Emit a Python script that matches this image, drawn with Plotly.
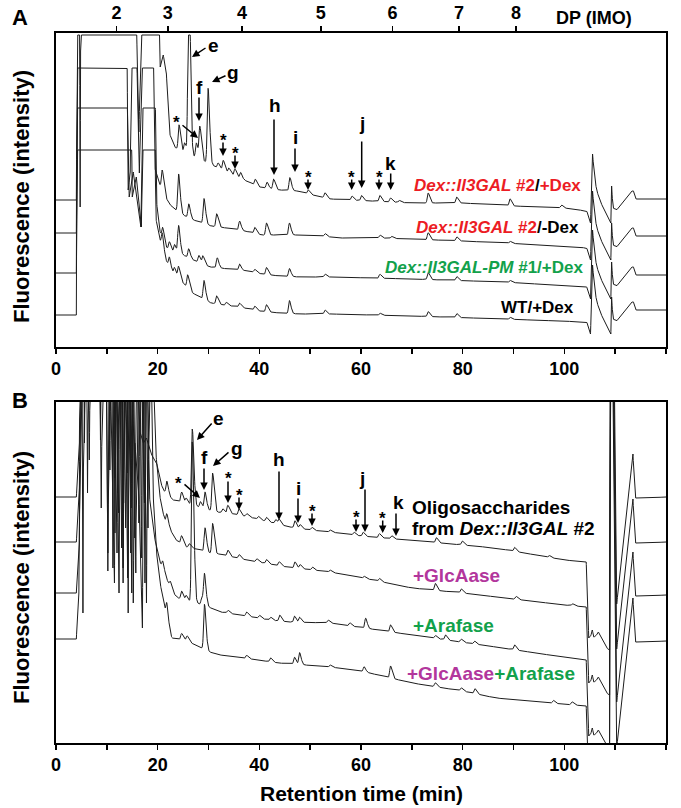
import numpy as np
import plotly.graph_objects as go

FONT = "Liberation Sans, Arial, Helvetica, sans-serif"
RED = "#ec1c24"
GREEN = "#12a14b"
PURPLE = "#b2369c"
INK = "#1c1c1c"

# ---------------- axis ticks ----------------
TIME_TICKS = list(range(0, 121, 10))
TIME_LABELS = ["0", "", "20", "", "40", "", "60", "", "80", "", "100", "", "120"]
DP_TIMES = [11.9, 22.0, 36.6, 52.1, 66.2, 79.3, 90.5]
DP_LABELS = ["2", "3", "4", "5", "6", "7", "8"]

# ---------------- panel A (intensity units, offset traces) ----------------
# trace A1: Dex::Il3GAL #2 / +Dex
A1_KT = [0, 4.0, 4.25, 4.6, 4.75, 4.9, 15.5, 16.3, 17.2, 20.0, 20.5, 21.1, 21.7, 22.3, 23.3, 24.9, 27.2,
         29.0, 31.5, 34.0, 37.0, 40.0, 44.0, 47.4, 50.5, 54.0, 70.0, 80.0, 90.0, 100.0, 104.4]
A1_KV = [147, 147, 400, 400, 140, 400, 400, 215, 400, 400, 280, 292, 275, 214, 200, 195, 190,
         186, 180, 174, 167, 160, 157, 156, 152, 148, 144, 144, 141, 139, 136]
A1_PT = [24.2, 25.3, 26.1, 27.6, 28.3, 29.9, 31.9, 32.9, 34.0, 35.2, 36.3, 39.2, 41.5, 42.8, 46.0, 49.6,
         52.9, 58.2, 60.1, 63.7, 65.8, 67.5, 73.2, 78.8, 89.3, 99.4]
A1_PH = [25, 10, 200, 15, 32, 75, 5, 10, 5, 7, 6, 6, 6, 10, 13, 4, 5, 4, 5, 6, 4, 2, 10, 6, 7, 3]

# trace A2: Dex::Il3GAL #2 / -Dex
A2_KT = [0, 4.0, 4.25, 13.8, 14.2, 14.6, 15.1, 15.4, 16.4, 17.4, 19.0, 19.4, 20.2, 21.5, 22.5, 23.3, 25.0,
         27.0, 28.3, 30.5, 33.5, 35.0, 38.0, 40.5, 48.0, 52.0, 56.0, 64.0, 80.0, 88.0, 100.0, 104.4]
A2_KV = [114, 114, 400, 400, 157, 175, 400, 400, 174, 400, 400, 180, 165, 150, 142, 138, 132,
         127, 125, 121, 119, 118, 115, 112, 112, 111, 109, 109, 106, 104, 101, 99]
A2_PT = [20.9, 24.1, 26.1, 29.1, 31.6, 36.1, 39.1, 41.4, 45.9, 52.9, 63.7, 66.0, 73.2, 78.8, 89.3]
A2_PH = [20, 38, 14, 25, 13, 9, 6, 12, 12, 3, 3, 2, 7, 4, 2]

# trace A3: Dex::Il3GAL-PM #1 / +Dex
A3_KT = [0, 4.0, 4.25, 13.4, 14.4, 15.2, 15.6, 16.7, 17.4, 19.3, 19.7, 20.3, 21.5, 23.0, 25.0, 27.0,
         30.3, 34.0, 38.0, 40.5, 44.0, 48.0, 54.0, 70.0, 88.0, 104.4]
A3_KV = [74, 74, 400, 400, 150, 175, 160, 120, 400, 400, 150, 118, 100, 95, 92, 87,
         80, 78, 76, 73, 71, 70, 70, 68, 65, 60]
A3_PT = [21.0, 22.3, 23.3, 24.1, 26.1, 28.1, 28.9, 31.7, 36.1, 39.1, 41.4, 45.9, 52.9, 63.7, 73.2, 78.8, 89.3]
A3_PH = [12, 8, 8, 28, 9, 7, 8, 10, 6, 3, 7, 8, 3, 4, 7, 4, 2]

# trace A4: WT / +Dex
A4_KT = [0, 4.0, 4.25, 14.5, 15.0, 15.8, 16.8, 17.5, 19.3, 19.6, 20.3, 21.5, 22.8, 24.8, 26.9, 28.2,
         30.5, 33.0, 36.0, 40.0, 44.0, 48.0, 54.0, 70.0, 88.0, 104.4]
A4_KV = [32, 32, 400, 400, 150, 170, 120, 400, 400, 130, 110, 88, 75, 65, 54, 50,
         44, 42, 40, 36, 34, 33, 33, 31, 28, 25]
A4_PT = [20.9, 22.3, 23.3, 24.1, 25.9, 29.1, 31.6, 33.5, 36.1, 39.1, 41.4, 45.9, 52.9, 63.7, 73.2, 78.8, 89.3]
A4_PH = [15, 10, 7, 12, 13, 19, 8, 3, 4, 4, 7, 13, 4, 2, 5, 4, 2]

A_SAT = [312, 279, 239, 197]  # detector saturation of each offset trace

# column wash-out region (relative to level at 104.4 min), panel A
A_END_T = [104.4, 105.0, 105.15, 105.55, 105.7, 105.9, 106.3, 107.0, 107.6, 108.3, 108.9, 109.15, 109.3,
           109.55, 110.3, 111.5, 113.3, 113.6, 114.0, 120.0]
A_END_DV = [0, -8, -12, 57, 48, 38, 22, 10, 4, -3, -9, -12, 25, 3, 1, 9, 20, 20, 12, 12]

# ---------------- panel B ----------------
# B1: oligosaccharides from Dex::Il3GAL #2
B1_KT = [0, 4.0, 4.3, 4.6, 4.8, 5.4, 5.6, 5.8, 6.3, 6.55, 6.8, 8.5, 8.75, 9.0, 10.4, 10.6, 10.8,
         11.4, 11.6, 11.8, 12.1, 12.4, 13.0, 13.3, 13.6, 14.0, 14.2, 14.5, 14.8, 15.1, 15.6, 16.4,
         17.2, 17.8, 18.6, 19.8, 20.5, 21.1, 22.3, 23.1, 25.5, 28.0, 30.0, 31.5, 35.0, 38.0, 42.0,
         46.0, 50.0, 54.0, 60.0, 73.5, 86.5, 100.0, 104.3]
B1_KV = [246, 246, 270, 300, 420, 420, 300, 420, 420, 283, 420, 420, 303, 420, 420, 273, 420,
         420, 265, 420, 250, 420, 420, 240, 420, 270, 420, 420, 235, 420, 420, 313,
         300, 305, 290, 280, 262, 253, 246, 243, 240, 236, 233, 231, 229, 226, 221,
         216, 213, 211, 207, 201, 195, 183, 181]
B1_PT = [21.8, 24.7, 25.6, 26.8, 28.4, 29.3, 30.8, 32.8, 33.8, 36.0, 37.5, 39.8, 41.4, 43.2, 43.9, 47.0,
         48.0, 50.3, 53.9, 58.6, 60.4, 63.6, 66.0, 74.8, 79.9, 90.2, 97.0]
B1_PH = [13, 10, 5, 76, 6, 17, 38, 4, 8, 6, 3, 3, 4, 4, 5, 7, 4, 3, 2, 3, 4, 4, 3, 5, 4, 4, 2]

# B2: +GlcAase
B2_KT = [0, 4.0, 4.3, 4.6, 4.85, 8.6, 8.9, 9.2, 11.3, 11.6, 11.9, 12.3, 12.6, 12.9, 13.2, 13.7, 14.0,
         14.4, 14.7, 15.0, 15.5, 15.8, 16.0, 16.3, 16.6, 17.4, 17.7, 18.1, 18.4, 18.8, 19.5, 20.2, 20.8,
         21.5, 23.6, 25.7, 28.4, 30.0, 32.0, 37.5, 45.4, 50.6, 53.9, 60.4, 70.0, 80.0, 90.0, 100.0, 104.3]
B2_KV = [201, 201, 225, 255, 420, 420, 235, 420, 420, 210, 420, 230, 420, 195, 420, 215, 420,
         420, 190, 420, 205, 420, 420, 220, 420, 240, 420, 215, 420, 420, 300, 255, 235,
         222, 203, 196, 193, 190, 189, 183, 176, 173, 171, 165, 155, 150, 144, 138, 136]
B2_PT = [21.8, 24.7, 26.2, 29.3, 30.8, 33.8, 36.0, 39.5, 41.4, 43.9, 47.0, 48.0, 50.4, 53.9, 60.6, 63.6,
         74.6, 79.7, 90.5, 101.6]
B2_PH = [10, 8, 4, 24, 30, 6, 4, 3, 4, 4, 6, 4, 3, 2, 2, 3, 7, 4, 3, 2]

# B3: +Arafase
B3_KT = [0, 4.0, 4.2, 4.6, 4.9, 6.0, 6.2, 6.4, 9.9, 10.2, 10.5, 11.0, 11.2, 11.4, 12.0, 12.3, 12.8,
         13.2, 13.5, 14.1, 14.4, 14.9, 15.2, 15.7, 16.0, 16.5, 16.8, 17.1, 17.5, 17.8, 18.3, 19.2, 20.3,
         21.6, 23.0, 24.0, 26.0, 27.7, 30.0, 32.3, 37.5, 42.0, 46.0, 54.0, 58.0, 70.0, 86.5, 94.4,
         101.0, 104.3]
B3_KV = [150, 150, 170, 200, 420, 420, 250, 420, 420, 172, 420, 420, 175, 420, 190, 420, 420,
         160, 420, 165, 420, 150, 420, 170, 420, 420, 185, 420, 160, 420, 250, 210, 183,
         166, 150, 145, 142, 140, 136, 131, 127, 123, 121, 120, 117, 108, 96, 90,
         85, 83]
B3_PT = [21.0, 22.5, 24.7, 25.6, 26.8, 28.7, 29.2, 33.8, 37.5, 40.0, 42.2, 44.0, 46.9, 47.9, 53.5, 57.8,
         60.9, 65.8, 74.6, 76.6, 79.7, 82.3, 90.2]
B3_PH = [8, 6, 8, 5, 160, 8, 30, 3, 4, 3, 3, 6, 6, 5, 3, 3, 10, 7, 3, 5, 3, 3, 5]

# B4: +GlcAase +Arafase
B4_KT = [0, 4.0, 4.2, 4.5, 4.8, 5.1, 5.3, 5.5, 9.8, 10.2, 10.5, 11.5, 11.8, 12.4, 12.7, 12.9, 13.2,
         13.4, 14.0, 14.2, 14.4, 15.0, 15.2, 15.5, 16.3, 17.0, 17.3, 17.8, 18.1, 18.6, 19.0, 19.6, 20.3,
         21.2, 22.2, 22.8, 24.0, 25.5, 27.0, 28.7, 30.2, 32.3, 37.0, 43.8, 49.0, 54.0, 60.0, 70.0,
         80.0, 86.5, 95.0, 104.3]
B4_KV = [104, 104, 125, 150, 420, 420, 130, 420, 420, 190, 420, 160, 420, 150, 420, 420, 175,
         420, 420, 130, 420, 420, 140, 300, 250, 115, 420, 140, 420, 420, 260, 200, 165,
         140, 115, 105, 104, 103, 99, 95, 91, 88, 85, 80, 78, 76, 72, 60,
         52, 45, 41, 37]
B4_PT = [21.8, 24.7, 25.8, 29.2, 37.5, 42.2, 46.9, 47.9, 53.9, 60.6, 65.8, 74.6, 79.7, 82.4, 97.8, 101.5]
B4_PH = [15, 6, 5, 45, 3, 4, 7, 12, 2, 5, 12, 4, 3, 5, 3, 3]

B_END_T = [104.3, 104.55, 104.8, 105.2, 105.5, 105.8, 106.2, 106.7, 107.3, 108.3, 108.9, 109.0, 109.4,
           110.3, 113.5, 113.9, 116.0, 120.0]
B_END_DV = [0, -30, -76, -74, -68, -75, -74, -70, -76, -86, -88, 400, 400, -42, 108, 64, 64, 65]


def build(kt, kv, pt, ph, end_t, end_dv, sat=None):
    lvl = kv[-1]
    t_all = list(kt) + list(end_t[1:])
    v_all = list(kv) + [lvl + d for d in end_dv[1:]]
    grid = np.union1d(np.arange(0, 120.0001, 0.04), np.array(t_all, dtype=float))
    sig = np.interp(grid, t_all, v_all)
    for t0, h in zip(pt, ph):
        s = np.where(grid < t0, 0.16, 0.32)
        sig = sig + h * np.exp(-0.5 * ((grid - t0) / s) ** 2)
    if sat is not None:
        sig = np.minimum(sig, sat)
    return grid, sig


fig = go.Figure()
A_SETS = [(A1_KT, A1_KV, A1_PT, A1_PH), (A2_KT, A2_KV, A2_PT, A2_PH),
          (A3_KT, A3_KV, A3_PT, A3_PH), (A4_KT, A4_KV, A4_PT, A4_PH)]
for (kt, kv, pt, ph), sat in zip(A_SETS, A_SAT):
    g, s = build(kt, kv, pt, ph, A_END_T, A_END_DV, sat)
    fig.add_trace(go.Scatter(x=g, y=s, mode="lines", line=dict(color=INK, width=1.0),
                             xaxis="x", yaxis="y", hoverinfo="skip", showlegend=False))
B_SETS = [(B1_KT, B1_KV, B1_PT, B1_PH), (B2_KT, B2_KV, B2_PT, B2_PH),
          (B3_KT, B3_KV, B3_PT, B3_PH), (B4_KT, B4_KV, B4_PT, B4_PH)]
for kt, kv, pt, ph in B_SETS:
    g, s = build(kt, kv, pt, ph, B_END_T, B_END_DV)
    fig.add_trace(go.Scatter(x=g, y=s, mode="lines", line=dict(color=INK, width=1.0),
                             xaxis="x2", yaxis="y2", hoverinfo="skip", showlegend=False))
# carrier (off-range) so that the DP axis on top is drawn
fig.add_trace(go.Scatter(x=[0, 120], y=[-50, -50], mode="lines", line=dict(width=0),
                         xaxis="x3", yaxis="y", hoverinfo="skip", showlegend=False))

# --------- geometry helpers (pixel -> data) ---------
L, R, T, B = 56, 15, 33, 65
W, H = 681, 808
PW, PH_ = W - L - R, H - T - B
A_TOP, A_BOT, B_TOP, B_BOT = 33, 347, 402, 743


def tx(px):
    return (px - L) / PW * 120.0


def vA(py):
    return A_BOT - py


def vB(py):
    return B_BOT - py


def xp(px):
    return (px - L) / PW


def yp(py):
    return (H - B - py) / PH_


ann = []


def text(x, y, s, size, xref, yref, color="black", xanchor="center", yanchor="middle", angle=0):
    ann.append(dict(x=x, y=y, xref=xref, yref=yref, text=s, showarrow=False, textangle=angle,
                    font=dict(family=FONT, size=size, color=color), xanchor=xanchor, yanchor=yanchor))


def arrow(p0, p1, xr, yr, vf):
    ann.append(dict(x=tx(p1[0]), y=vf(p1[1]), ax=tx(p0[0]), ay=vf(p0[1]), xref=xr, yref=yr,
                    axref=xr, ayref=yr, text="", showarrow=True, arrowhead=2, arrowsize=1.0,
                    arrowwidth=1.5, arrowcolor="black"))


A_ARROWS = [((207, 47), (192, 57)), ((199, 96), (199, 121)), ((227, 75), (212, 82)),
            ((181, 124), (198, 138)), ((223, 141), (223, 156)), ((235, 154), (235, 169)),
            ((274, 118), (274, 175)), ((295, 147), (295, 172)), ((308, 178), (308, 190)),
            ((351.7, 178), (351.7, 190)), ((361.7, 140), (361.7, 188)), ((379, 178), (379, 190)),
            ((390.7, 172), (390.7, 190))]
A_MARKS = [("e", 213, 45), ("f", 199, 87), ("g", 233, 72), ("*", 176, 117), ("*", 223, 135),
           ("*", 235, 148), ("h", 275, 105), ("i", 295, 137), ("*", 308, 172), ("*", 351.7, 172),
           ("j", 361.7, 123), ("*", 379, 172), ("k", 390.7, 163)]
B_ARROWS = [((213, 422), (197, 440)), ((204, 467), (204, 490)), ((230, 451), (213, 466)),
            ((183, 483), (200, 498)), ((228, 480), (228, 503)), ((239, 496), (239, 510)),
            ((279, 470), (279, 520)), ((298, 497), (298, 523)), ((312, 512), (312, 526)),
            ((365, 488), (365, 532)), ((356, 518), (356, 532)), ((382.7, 519), (382.7, 533)),
            ((396, 512), (396, 536))]
B_MARKS = [("e", 218, 418), ("f", 204, 457), ("g", 237, 448), ("*", 178, 478), ("*", 228, 473),
           ("*", 239, 490), ("h", 279, 459), ("i", 298, 488), ("*", 312, 506), ("j", 361.7, 478),
           ("*", 356, 512), ("*", 382.7, 513), ("k", 398, 502)]

for p0, p1 in A_ARROWS:
    arrow(p0, p1, "x", "y", vA)
for p0, p1 in B_ARROWS:
    arrow(p0, p1, "x2", "y2", vB)
for s, px, py in A_MARKS:
    off = 5 if s == "*" else 0
    text(tx(px), vA(py + off), f"<b>{s}</b>", 17 if s == "*" else 19, "x", "y")
for s, px, py in B_MARKS:
    off = 5 if s == "*" else 0
    text(tx(px), vB(py + off), f"<b>{s}</b>", 17 if s == "*" else 19, "x2", "y2")

# trace labels panel A
IL = "<i>Dex::Il3GAL</i>"
text(tx(583), vA(185), f'<b><span style="color:{RED}">{IL} #2</span>/<span style="color:{RED}">+Dex</span></b>',
     17, "x", "y", xanchor="right")
text(tx(581), vA(227), f'<b><span style="color:{RED}">{IL} #2</span>/-Dex</b>', 17, "x", "y", xanchor="right")
text(tx(585), vA(267), "<b><i>Dex::Il3GAL-PM</i> #1/+Dex</b>", 17, "x", "y", color=GREEN, xanchor="right")
text(tx(576), vA(307), "<b>WT/+Dex</b>", 17, "x", "y", xanchor="right")

# trace labels panel B
text(tx(410), vB(507), "<b>Oligosaccharides</b>", 19, "x2", "y2", xanchor="left")
text(tx(410), vB(528), f"<b>from {IL} #2</b>", 19, "x2", "y2", xanchor="left")
text(tx(411), vB(575), "<b>+GlcAase</b>", 19, "x2", "y2", color=PURPLE, xanchor="left")
text(tx(411), vB(625), "<b>+Arafase</b>", 19, "x2", "y2", color=GREEN, xanchor="left")
text(tx(405), vB(673), f'<b><span style="color:{PURPLE}">+GlcAase</span><span style="color:{GREEN}">+Arafase</span></b>',
     19, "x2", "y2", xanchor="left")

# outside texts
text(xp(20), yp(17), "<b>A</b>", 22, "paper", "paper")
text(xp(20), yp(400), "<b>B</b>", 22, "paper", "paper")
text(xp(594), yp(18), "<b>DP (IMO)</b>", 18, "paper", "paper")
text(xp(21), yp(197), "<b>Fluorescence (intensity)</b>", 22, "paper", "paper", angle=-90)
text(xp(21), yp(578), "<b>Fluorescence (intensity)</b>", 22, "paper", "paper", angle=-90)
text(xp(361.5), yp(794), "<b>Retention time (min)</b>", 21, "paper", "paper")

tick_font = dict(family=FONT, size=18, color="black")
x_common = dict(range=[0, 120], showgrid=False, zeroline=False, showline=True, linecolor="black",
                linewidth=1.8, mirror=True, ticks="outside", ticklen=5, tickwidth=1.5, tickcolor="black",
                tickvals=TIME_TICKS, ticktext=[f"<b>{s}</b>" if s else "" for s in TIME_LABELS],
                tickfont=tick_font, fixedrange=True)
y_common = dict(showgrid=False, zeroline=False, showline=True, linecolor="black", linewidth=1.8,
                mirror=True, ticks="", showticklabels=False, fixedrange=True)

a_dom = [1 - (A_BOT - A_TOP) / PH_, 1.0]
b_dom = [0.0, (B_BOT - B_TOP) / PH_]

fig.update_layout(
    width=W, height=H,
    margin=dict(l=L, r=R, t=T, b=B, autoexpand=False),
    paper_bgcolor="white", plot_bgcolor="white",
    hovermode=False,
    xaxis=dict(domain=[0, 1], anchor="y", **x_common),
    yaxis=dict(domain=a_dom, anchor="x", range=[0, A_BOT - A_TOP], **y_common),
    xaxis2=dict(domain=[0, 1], anchor="y2", **x_common),
    yaxis2=dict(domain=b_dom, anchor="x2", range=[0, B_BOT - B_TOP], **y_common),
    xaxis3=dict(overlaying="x", side="top", anchor="y", range=[0, 120], tickvals=DP_TIMES,
                ticktext=[f"<b>{s}</b>" for s in DP_LABELS], ticks="outside", ticklen=6, tickwidth=1.5,
                tickcolor="black", showline=False, showgrid=False, zeroline=False, tickfont=tick_font,
                fixedrange=True),
    annotations=ann,
)

fig.write_html("out.html", config={"displayModeBar": False, "staticPlot": True},
               post_script="document.body.style.margin='0px';")
